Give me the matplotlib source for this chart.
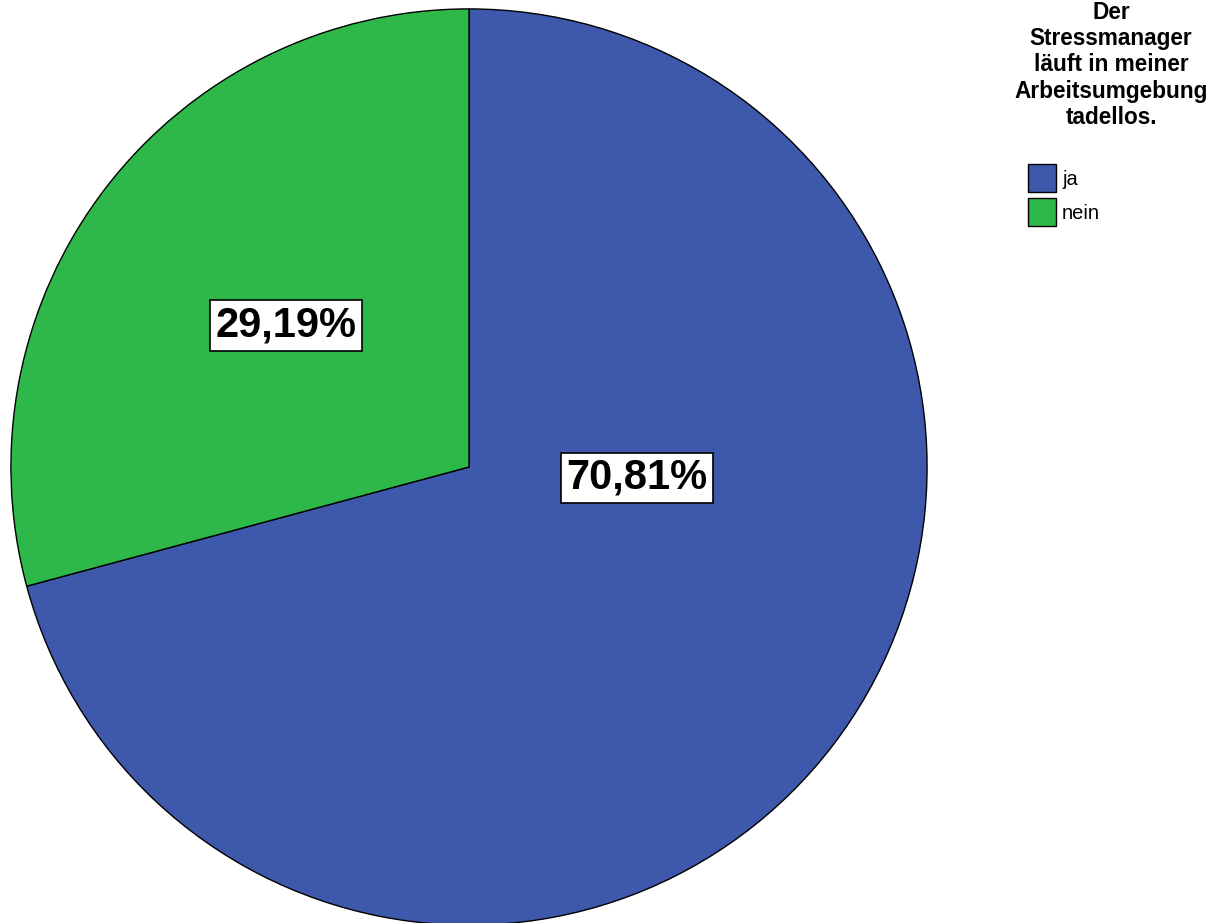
import matplotlib
matplotlib.use('Agg')
import matplotlib.pyplot as plt

# data
categories = ['ja', 'nein']
shares = [70.81, 29.19]
colors = ['#3E58AC', '#2EB84A']
labels = ['70,81%', '29,19%']
label_pos = [(0.366, -0.024), (-0.399, 0.309)]   # where SPSS put the boxes
legend_title = 'Der\nStressmanager\nläuft in meiner\nArbeitsumgebung\ntadellos.'

plt.rcParams['font.family'] = ['Liberation Sans', 'DejaVu Sans']

W, H = 1211, 923
fig = plt.figure(figsize=(W / 100, H / 100), dpi=100)
fig.patch.set_facecolor('white')

# pie centre (469, 467) px from top-left, radius 459 px
cx, cy, r = 469, 467, 459
ax = fig.add_axes([(cx - r) / W, (H - cy - r) / H, 2 * r / W, 2 * r / H])
wedges, _ = ax.pie(shares, colors=colors, startangle=90, counterclock=False,
                   radius=1, wedgeprops=dict(edgecolor='black', linewidth=1.0))
ax.set_xlim(-1.002, 1.002)
ax.set_ylim(-1.002, 1.002)
ax.set_aspect('equal')
ax.axis('off')

for txt, (x, y) in zip(labels, label_pos):
    ax.text(x, y, txt, ha='center', va='center', fontsize=30, fontweight='bold',
            bbox=dict(boxstyle='square,pad=0.13', facecolor='white',
                      edgecolor='black', linewidth=1.2))

# legend title
fig.text(1111 / W, 1 - 1 / H, legend_title, ha='center', va='top',
         multialignment='center', fontsize=16.3, fontweight='bold',
         linespacing=1.18)

leg = fig.legend(wedges, categories, loc='upper left',
                 bbox_to_anchor=(1026 / W, 1 - 162 / H), frameon=False,
                 fontsize=14.5, handlelength=1.39, handleheight=1.76,
                 handletextpad=0.3, labelspacing=0.3, borderpad=0.1,
                 borderaxespad=0)

fig.savefig('out.png', dpi=100, facecolor='white')
